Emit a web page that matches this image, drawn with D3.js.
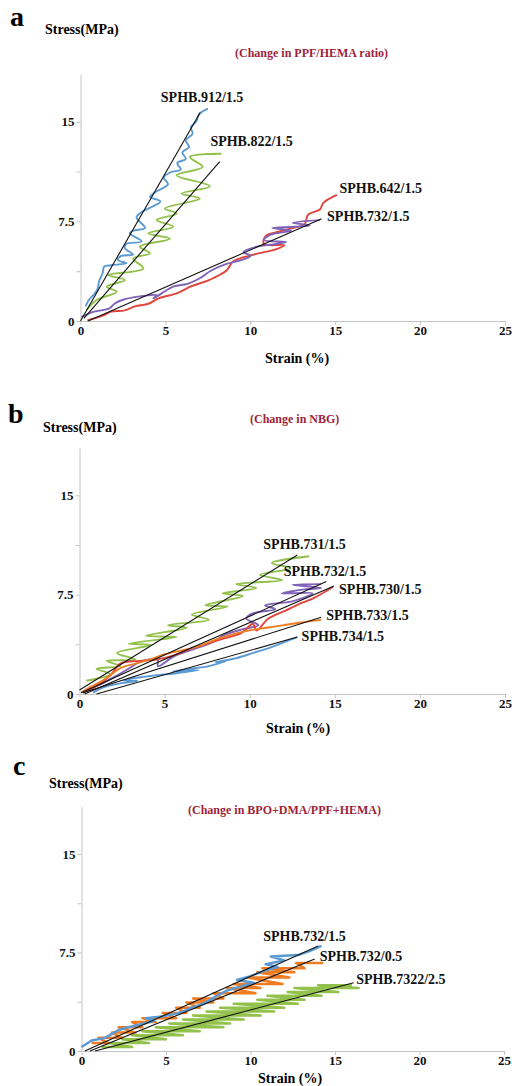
<!DOCTYPE html>
<html>
<head>
<meta charset="utf-8">
<script src="https://cdn.jsdelivr.net/npm/d3@7"></script>
<style>
  body { margin: 0; background: #fff; }
  svg { display: block; }
  text { font-family: "Liberation Serif", "Times New Roman", serif; font-weight: bold; }
</style>
</head>
<body>
<svg id="graph"></svg>
<script>
// axis ticks shared by the three panels
var xTicks = [0, 5, 10, 15, 20, 25];
var yTicks = [0, 3.75, 7.5, 11.25, 15];
var yTickLabels = ["0", "", "7.5", "", "15"];

// panel a : change in PPF/HEMA ratio  (strain %, stress MPa)
var a912 = [[0.3,1.1],[0.5,1.6],[0.8,2.0],[1.0,2.4],[1.1,3.0],[1.3,3.6],[1.4,4.1],[1.8,4.2],[2.7,4.35],[2.2,4.6],
  [2.4,4.9],[3.1,5.0],[2.6,5.5],[2.7,5.8],[3.6,6.0],[2.9,6.6],[3.1,6.8],[3.8,7.0],[3.3,7.8],[3.6,8.2],[4.7,9.0],
  [4.1,9.35],[4.4,9.7],[5.15,10.3],[4.9,10.8],[5.3,11.2],[5.9,11.4],[5.7,11.9],[6.2,12.2],[6.0,12.7],[6.4,13.1],
  [6.2,13.6],[6.6,14.1],[6.5,14.6],[6.8,15.0],[7.0,15.6],[7.5,16.0]];
var a822 = [[0.36,0.83],[0.95,1.58],[2.13,2.2],[1.54,2.58],[2.62,3.08],[1.64,3.46],[3.7,3.96],[3.1,4.7],[4.09,5.1],
  [3.5,5.6],[5.26,6.2],[3.99,6.6],[5.46,7.1],[4.48,7.6],[5.66,8.1],[4.97,8.47],[7.03,9.22],[5.95,9.6],[7.62,10.15],
  [5.66,10.98],[7.2,11.6],[6.44,12.35],[8.3,12.6]];
var a642 = [[0.4,0.05],[1.3,0.4],[1.8,0.7],[2.6,0.8],[3.2,1.1],[4.0,1.3],[4.6,1.7],[5.7,2.1],[6.5,2.6],[7.6,3.1],
  [8.6,3.8],[9.0,4.5],[10.2,5.0],[11.5,5.4],[12.0,5.7],[10.8,5.8],[10.9,6.4],[11.6,6.7],[12.5,7.0],[13.2,7.3],
  [13.4,8.0],[14.1,8.4],[14.3,8.9],[15.1,9.5]];
var a732 = [[0.05,0.3],[0.8,0.7],[1.7,0.95],[2.0,1.3],[2.5,1.6],[3.5,1.85],[4.5,1.95],[4.3,1.7],[4.8,2.1],[5.5,2.6],
  [6.3,2.8],[7.0,3.2],[7.7,3.8],[8.6,4.3],[9.5,4.6],[10.0,4.9],[9.6,5.2],[10.4,5.6],[11.5,5.8],[12.1,5.95],
  [10.8,6.1],[11.2,6.5],[12.4,6.8],[11.3,7.0],[12.6,7.1],[13.5,7.2],[12.5,7.4],[14.1,7.6]];
var aFits = [[[0, 0], [7.05, 15.7]], [[0.2, 0.2], [8.2, 12.0]], [[0.45, 0], [14.2, 7.7]]];
var aNames = ["SPHB.912/1.5", "SPHB.822/1.5", "SPHB.642/1.5", "SPHB.732/1.5"];

// panel b : change in NBG
var b731 = [[0.4,1.0],[1.8,1.5],[1.0,1.9],[2.4,2.1],[1.6,2.5],[3.3,2.6],[2.2,3.1],[4.2,3.7],[2.9,3.8],[5.7,4.3],
  [3.9,4.4],[6.3,5.0],[5.2,5.2],[7.6,5.6],[6.6,6.0],[8.7,6.6],[7.4,6.7],[9.6,7.4],[8.4,7.6],[10.4,8.0],[9.2,8.3],
  [11.9,8.6],[10.6,9.0],[12.4,9.5],[11.3,9.9],[13.5,10.4]];
var b732 = [[0.3,0.2],[1.2,0.7],[2.2,1.4],[3.0,2.0],[3.5,2.4],[4.6,2.6],[4.6,2.1],[5.5,2.8],[6.5,3.3],[7.4,3.7],
  [7.8,3.9],[8.6,4.5],[9.6,4.9],[10.5,5.2],[9.8,5.7],[10.2,6.1],[11.5,6.4],[10.9,6.7],[12.5,7.0],[13.7,7.6],
  [11.9,7.6],[13.2,7.9],[14.2,8.0],[12.5,8.25],[14.2,8.3]];
var b730 = [[0.2,0.1],[1.0,0.6],[1.8,1.4],[2.4,2.3],[3.5,2.5],[4.5,2.6],[5.5,2.9],[6.5,3.4],[7.5,3.8],[8.5,4.2],
  [9.5,4.6],[10.2,5.3],[10.4,4.8],[11.1,5.7],[12.1,6.3],[13.1,6.9],[13.7,7.2],[14.4,7.7],[14.9,8.1]];
var b733 = [[0.1,0.1],[0.6,0.5],[1.2,0.9],[1.7,1.3],[2.2,1.8],[2.7,2.1],[3.3,2.3],[4.1,2.6],[5.0,3.0],[6.0,3.3],
  [7.0,3.6],[8.0,4.1],[9.0,4.5],[10.0,4.8],[11.0,5.0],[12.0,5.2],[13.0,5.4],[14.2,5.6]];
var b734 = [[0.8,0.1],[1.4,0.5],[2.4,0.8],[3.4,1.0],[2.6,1.05],[4.4,1.4],[5.6,1.55],[7.0,1.8],[5.5,1.7],[6.5,1.9],
  [7.6,2.1],[8.6,2.5],[8.0,2.4],[9.2,2.7],[10.2,3.1],[11.2,3.5],[12.0,3.9],[12.8,4.3]];
var bFits = [[[0, 0.3], [12.8, 10.5]], [[0.1, 0.1], [14.5, 8.5]], [[0.3, 0], [14.95, 8.15]],
  [[0.2, 0.1], [14.2, 5.8]], [[1.0, 0], [12.8, 4.3]]];
var bNames = ["SPHB.731/1.5", "SPHB.732/1.5", "SPHB.730/1.5", "SPHB.733/1.5", "SPHB.734/1.5"];

// panel c : change in BPO+DMA/PPF+HEMA
var c732_15 = [[0.0,0.3],[0.6,0.8],[1.4,1.0],[1.8,1.3],[2.2,1.6],[2.9,1.85],[3.7,2.1],[4.3,2.3],[3.8,2.5],[4.6,2.6],
  [5.3,2.75],[6.0,3.0],[6.5,3.3],[7.0,3.5],[7.5,3.8],[8.0,4.2],[8.6,4.6],[9.4,4.9],[10.2,5.2],[9.2,5.4],[10.0,5.7],
  [10.8,6.1],[11.6,6.4],[10.9,6.6],[12.0,6.9],[11.2,7.2],[12.8,7.3],[13.5,7.6],[14.2,8.0]];
var c732_05 = [[0.6,0.6],[1.6,0.6],[1.0,1.0],[2.4,1.0],[1.8,1.4],[3.2,1.4],[2.2,1.8],[3.6,1.8],[3.0,2.2],[4.4,2.2],
  [3.6,2.5],[5.6,2.5],[4.8,2.9],[6.2,2.9],[5.6,3.3],[7.0,3.3],[6.2,3.7],[7.8,3.7],[6.6,4.0],[8.4,4.0],[7.8,4.4],
  [10.3,4.4],[8.6,4.8],[10.6,4.8],[9.0,5.1],[11.9,5.1],[9.8,5.6],[12.3,5.6],[10.4,6.0],[12.6,6.0],[10.7,6.3],
  [13.2,6.3],[12.7,6.7],[14.3,6.7]];
var c7322_25 = [[1.2,0.3],[3.0,0.3],[1.6,0.6],[4.0,0.6],[2.4,0.9],[5.0,0.9],[3.0,1.2],[6.0,1.2],[3.6,1.5],[7.0,1.5],
  [4.4,1.8],[8.4,1.8],[5.2,2.1],[8.8,2.1],[6.0,2.4],[9.6,2.4],[6.6,2.7],[10.6,2.7],[7.4,3.0],[11.4,3.0],[8.2,3.3],
  [12.0,3.3],[9.0,3.6],[12.8,3.6],[10.4,3.9],[13.2,3.9],[11.0,4.2],[14.2,4.2],[12.2,4.5],[15.2,4.5],[12.6,4.8],
  [16.4,4.8],[14.0,5.0],[16.0,5.0]];
var cFits = [[[0.2, 0], [14.0, 8.0]], [[0.5, 0], [13.8, 7.0]], [[0.8, 0], [16.1, 5.2]]];
var cNames = ["SPHB.732/1.5", "SPHB.732/0.5", "SPHB.7322/2.5"];

var blue = "#5b9bd5", green = "#92c14c", red = "#e0443c", purple = "#8062b8", orange = "#f07c22";

var svg = d3.select("#graph").attr("width", 512).attr("height", 1086);

var panels = [
  { letter: "a", ly: 26, lx: 10, x0: 80.5, x1: 505, y0: 321, yTop: 74, titleY: 34, titleX: 45,
    sub: "(Change in PPF/HEMA ratio)", subX: 235, subY: 56.5, xlabX: 265, xlabY: 363,
    series: [[a912, blue], [a822, green], [a642, red], [a732, purple]], curve: d3.curveCatmullRom, width: 1.9,
    fits: aFits, names: aNames, nameAt: [[4.73, 16.87], [7.65, 13.58], [15.25, 9.99], [14.52, 7.9]] },
  { letter: "b", ly: 423, lx: 8, x0: 79.5, x1: 505, y0: 694, yTop: 447.7, titleY: 431.5, titleX: 43,
    sub: "(Change in NBG)", subX: 250, subY: 423, xlabX: 266, xlabY: 733,
    series: [[b731, green], [b732, purple], [b730, red], [b733, orange], [b734, blue]], curve: d3.curveCatmullRom, width: 1.9,
    fits: bFits, names: bNames, nameAt: [[10.8, 11.33], [12.0, 9.31], [15.25, 7.95], [14.5, 5.94], [13.05, 4.38]] },
  { letter: "c", ly: 775, lx: 13, x0: 81.5, x1: 504, y0: 1051, yTop: 806.7, titleY: 788, titleX: 49,
    sub: "(Change in BPO+DMA/PPF+HEMA)", subX: 188, subY: 814, xlabX: 258, xlabY: 1083,
    series: [[c7322_25, green], [c732_05, orange], [c732_15, blue]], curve: d3.curveLinear, width: 2.5,
    fits: cFits, names: cNames, nameAt: [[10.75, 8.78], [14.1, 7.26], [16.25, 5.48]] }
];

panels.forEach(function(p) {
  var x = d3.scaleLinear().domain([0, 25]).range([p.x0, p.x1]);
  var y = d3.scaleLinear().domain([0, 18.6]).range([p.y0, p.yTop]);
  var g = svg.append("g");

  g.append("text").attr("x", p.lx).attr("y", p.ly).style("font-size", "28px").text(p.letter);
  g.append("text").attr("x", p.titleX).attr("y", p.titleY).style("font-size", "14px").text("Stress(MPa)");
  g.append("text").attr("x", p.subX).attr("y", p.subY).style("font-size", "12px")
    .attr("fill", "#a01f3a").text(p.sub);
  g.append("text").attr("x", p.xlabX).attr("y", p.xlabY).style("font-size", "14px").text("Strain (%)");

  // axes
  var xa = g.append("g").attr("transform", "translate(0," + p.y0 + ")")
    .call(d3.axisBottom(x).tickValues(xTicks).tickSize(4).tickSizeOuter(0).tickPadding(1));
  var ya = g.append("g").attr("transform", "translate(" + p.x0 + ",0)")
    .call(d3.axisLeft(y).tickValues(yTicks).tickSize(4).tickSizeOuter(0).tickPadding(2)
      .tickFormat(function(d, i) { return yTickLabels[i]; }));
  [xa, ya].forEach(function(ax) {
    ax.select(".domain").attr("stroke", "#c4c4c4");
    ax.selectAll(".tick line").attr("stroke", "#c4c4c4");
    ax.selectAll(".tick text").attr("fill", "#111")
      .style("font-family", "'Liberation Serif', serif").style("font-weight", "bold").style("font-size", "13px");
  });

  var line = d3.line().x(function(d) { return x(d[0]); }).y(function(d) { return y(d[1]); }).curve(p.curve);

  p.series.forEach(function(s) {
    g.append("path").datum(s[0]).attr("d", line).attr("fill", "none")
      .attr("stroke", s[1]).attr("stroke-width", p.width).attr("stroke-linejoin", "round");
  });

  var straight = d3.line().x(function(d) { return x(d[0]); }).y(function(d) { return y(d[1]); });
  p.fits.forEach(function(f) {
    g.append("path").datum(f).attr("d", straight).attr("stroke", "#111").attr("stroke-width", 1.1).attr("fill", "none");
  });

  p.names.forEach(function(n, i) {
    g.append("text").attr("x", x(p.nameAt[i][0])).attr("y", y(p.nameAt[i][1])).attr("dy", "0.35em")
      .style("font-size", "14px").attr("fill", "#111").text(n);
  });
});
</script>
</body>
</html>
